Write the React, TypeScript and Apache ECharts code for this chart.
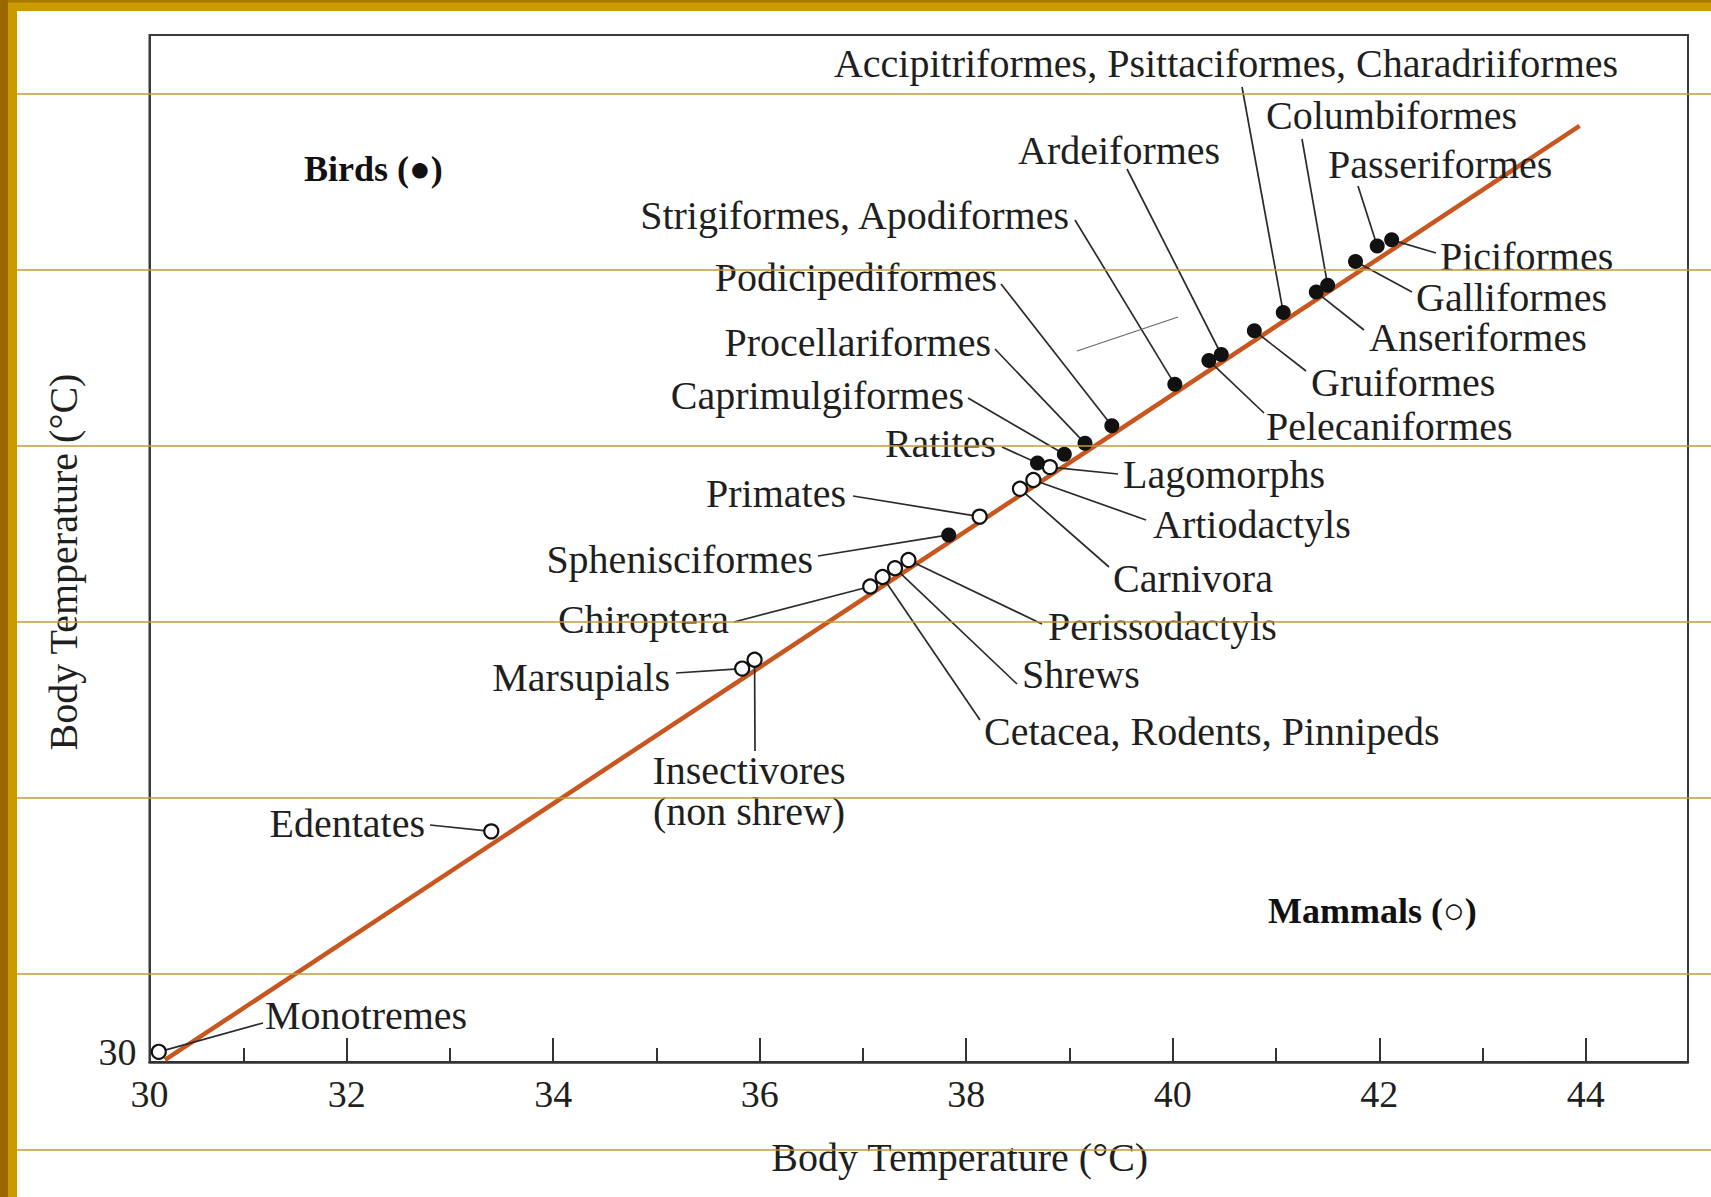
import { useEffect, useRef } from 'react';
import * as echarts from 'echarts';

// ---------- axis extents & ticks ----------
const X_MIN = 30.09;
const X_MAX = 44.99;
const Y_MIN = 30;
const Y_MAX = 45.14;
const X_MAJOR_TICKS = [32, 34, 36, 38, 40, 42, 44];
const X_MINOR_TICKS = [31, 33, 35, 37, 39, 41, 43];
// the lone "30" on the vertical axis sits a little above the corner in the original
const Y_TICK_LABELS = [30.15];

// ---------- mammals (open circles) ----------
const MAMMAL_NAMES = [
  'Monotremes', 'Edentates', 'Marsupials', 'Insectivores (non shrew)',
  'Chiroptera', 'Cetacea, Rodents, Pinnipeds', 'Shrews', 'Perissodactyls',
  'Primates', 'Carnivora', 'Artiodactyls', 'Lagomorphs',
];
const MAMMAL_X = [30.18, 33.40, 35.83, 35.95, 37.07, 37.19, 37.31, 37.44, 38.13, 38.52, 38.65, 38.81];
const MAMMAL_Y = [30.15, 33.40, 35.80, 35.93, 37.01, 37.15, 37.28, 37.40, 38.04, 38.45, 38.58, 38.77];

// ---------- birds (filled circles) ----------
const BIRD_NAMES = [
  'Sphenisciformes', 'Ratites', 'Caprimulgiformes', 'Procellariformes',
  'Podicipediformes', 'Strigiformes, Apodiformes', 'Pelecaniformes', 'Ardeiformes',
  'Gruiformes', 'Accipitriformes, Psittaciformes, Charadriiformes', 'Anseriformes',
  'Columbiformes', 'Galliformes', 'Passeriformes', 'Piciformes',
];
const BIRD_X = [37.83, 38.69, 38.95, 39.15, 39.41, 40.02, 40.35, 40.47, 40.79, 41.07, 41.39, 41.50, 41.77, 41.98, 42.12];
const BIRD_Y = [37.77, 38.83, 38.96, 39.12, 39.38, 39.99, 40.34, 40.43, 40.78, 41.05, 41.35, 41.45, 41.80, 42.03, 42.12];

// ---------- reference line ----------
const TREND_X = [30.24, 43.94];
const TREND_Y = [30.03, 43.80];

// ---------- annotation layout (pixel positions of labels and leader ends) ----------
type Lab = { text: string; x: number; y: number; align: 'left' | 'right' | 'center'; lx: number; ly: number };
const LABEL_LAYOUT: Record<string, Lab> = {
  'Monotremes': { text: 'Monotremes', x: 265, y: 1015, align: 'left', lx: 263, ly: 1023 },
  'Edentates': { text: 'Edentates', x: 425, y: 823, align: 'right', lx: 430, ly: 825 },
  'Marsupials': { text: 'Marsupials', x: 670, y: 677, align: 'right', lx: 676, ly: 673 },
  'Insectivores (non shrew)': { text: 'Insectivores\n(non shrew)', x: 749, y: 791, align: 'center', lx: 755, ly: 751 },
  'Chiroptera': { text: 'Chiroptera', x: 729, y: 619, align: 'right', lx: 734, ly: 622 },
  'Cetacea, Rodents, Pinnipeds': { text: 'Cetacea, Rodents, Pinnipeds', x: 984, y: 731, align: 'left', lx: 980, ly: 720 },
  'Shrews': { text: 'Shrews', x: 1022, y: 674, align: 'left', lx: 1017, ly: 684 },
  'Perissodactyls': { text: 'Perissodactyls', x: 1048, y: 626, align: 'left', lx: 1042, ly: 624 },
  'Primates': { text: 'Primates', x: 846, y: 493, align: 'right', lx: 853, ly: 496 },
  'Carnivora': { text: 'Carnivora', x: 1113, y: 578, align: 'left', lx: 1109, ly: 567 },
  'Artiodactyls': { text: 'Artiodactyls', x: 1153, y: 524, align: 'left', lx: 1146, ly: 520 },
  'Lagomorphs': { text: 'Lagomorphs', x: 1123, y: 474, align: 'left', lx: 1118, ly: 474 },
  'Sphenisciformes': { text: 'Sphenisciformes', x: 813, y: 559, align: 'right', lx: 818, ly: 556 },
  'Ratites': { text: 'Ratites', x: 996, y: 443, align: 'right', lx: 1002, ly: 447 },
  'Caprimulgiformes': { text: 'Caprimulgiformes', x: 964, y: 395, align: 'right', lx: 968, ly: 398 },
  'Procellariformes': { text: 'Procellariformes', x: 991, y: 342, align: 'right', lx: 995, ly: 349 },
  'Podicipediformes': { text: 'Podicipediformes', x: 997, y: 277, align: 'right', lx: 1001, ly: 284 },
  'Strigiformes, Apodiformes': { text: 'Strigiformes, Apodiformes', x: 1069, y: 215, align: 'right', lx: 1075, ly: 220 },
  'Pelecaniformes': { text: 'Pelecaniformes', x: 1266, y: 426, align: 'left', lx: 1264, ly: 413 },
  'Ardeiformes': { text: 'Ardeiformes', x: 1018, y: 150, align: 'left', lx: 1127, ly: 169 },
  'Gruiformes': { text: 'Gruiformes', x: 1311, y: 382, align: 'left', lx: 1306, ly: 371 },
  'Accipitriformes, Psittaciformes, Charadriiformes': { text: 'Accipitriformes, Psittaciformes, Charadriiformes', x: 1226, y: 63, align: 'center', lx: 1242, ly: 87 },
  'Anseriformes': { text: 'Anseriformes', x: 1369, y: 337, align: 'left', lx: 1364, ly: 330 },
  'Columbiformes': { text: 'Columbiformes', x: 1266, y: 115, align: 'left', lx: 1302, ly: 139 },
  'Galliformes': { text: 'Galliformes', x: 1416, y: 297, align: 'left', lx: 1412, ly: 292 },
  'Passeriformes': { text: 'Passeriformes', x: 1328, y: 164, align: 'left', lx: 1358, ly: 186 },
  'Piciformes': { text: 'Piciformes', x: 1440, y: 256, align: 'left', lx: 1436, ly: 253 },
};

const SERIF = '"Liberation Serif", "Times New Roman", serif';
const INK = '#1f1f1f';
const GOLD_LINES_Y = [94, 270, 446, 622, 798, 974, 1150];

export default function App() {
  const ref = useRef<HTMLDivElement>(null);

  useEffect(() => {
    if (!ref.current) return;
    const chart = echarts.init(ref.current, undefined, { renderer: 'svg' });

    const mammalData = MAMMAL_X.map((x, i) => ({ name: MAMMAL_NAMES[i], value: [x, MAMMAL_Y[i]] }));
    const birdData = BIRD_X.map((x, i) => ({ name: BIRD_NAMES[i], value: [x, BIRD_Y[i]] }));
    const allNames = [...MAMMAL_NAMES, ...BIRD_NAMES];
    const allData = [...mammalData, ...birdData];

    const goldLines = GOLD_LINES_Y.map((y) => ({
      type: 'line',
      z: 100,
      silent: true,
      shape: { x1: 17, y1: y, x2: 1711, y2: y },
      style: { stroke: '#c49a3e', lineWidth: 1.5 },
    }));

    const option: any = {
      animation: false,
      backgroundColor: '#ffffff',
      grid: {
        left: 149.5, right: 23, top: 35, bottom: 135,
        show: true, borderColor: '#3a3a3a', borderWidth: 2,
      },
      xAxis: [
        {
          type: 'value', min: X_MIN, max: X_MAX,
          name: 'Body Temperature (°C)', nameLocation: 'middle', nameGap: 75,
          nameTextStyle: { fontFamily: SERIF, fontSize: 40, color: INK, padding: [0, 0, 0, 82] },
          axisLine: { show: true, lineStyle: { color: '#333', width: 2.5 } },
          axisTick: { show: true, inside: true, length: 24, customValues: X_MAJOR_TICKS, lineStyle: { color: '#333', width: 2 } },
          axisLabel: {
            customValues: [X_MIN, ...X_MAJOR_TICKS],
            formatter: (v: number) => String(Math.round(v)),
            fontFamily: SERIF, fontSize: 38, color: INK, margin: 13,
          },
          splitLine: { show: false },
        },
        {
          type: 'value', min: X_MIN, max: X_MAX, position: 'bottom',
          axisLine: { show: false },
          axisTick: { show: true, inside: true, length: 14, customValues: X_MINOR_TICKS, lineStyle: { color: '#333', width: 2 } },
          axisLabel: { show: false },
          splitLine: { show: false },
        },
      ],
      yAxis: {
        type: 'value', min: Y_MIN, max: Y_MAX,
        name: 'Body Temperature (°C)', nameLocation: 'middle', nameGap: 66,
        nameTextStyle: { fontFamily: SERIF, fontSize: 40, color: INK, padding: [0, 27, 0, 0] },
        axisLine: { show: true, lineStyle: { color: '#3a3a3a', width: 2 } },
        axisTick: { show: false },
        axisLabel: {
          customValues: Y_TICK_LABELS,
          formatter: (v: number) => String(Math.round(v)),
          fontFamily: SERIF, fontSize: 38, color: INK, margin: 13,
        },
        splitLine: { show: false },
      },
      series: [
        {
          type: 'line', name: 'y = x',
          data: TREND_X.map((x, i) => [x, TREND_Y[i]]),
          showSymbol: false, symbol: 'none', silent: true, z: 2,
          lineStyle: { color: '#c8561f', width: 4.5 },
        },
        {
          type: 'custom', name: 'labels', coordinateSystem: 'cartesian2d', z: 3, silent: true,
          data: allData,
          renderItem: (params: any, api: any) => {
            const L = LABEL_LAYOUT[allNames[params.dataIndex]];
            const p = api.coord([api.value(0), api.value(1)]);
            return {
              type: 'group',
              children: [
                { type: 'line', shape: { x1: p[0], y1: p[1], x2: L.lx, y2: L.ly }, style: { stroke: '#2a2a2a', lineWidth: 1.7 } },
                {
                  type: 'text', x: L.x, y: L.y,
                  style: {
                    text: L.text, fill: INK, fontFamily: SERIF, fontSize: 40,
                    align: L.align, verticalAlign: 'middle', lineHeight: 41,
                  },
                },
              ],
            };
          },
        },
        {
          type: 'scatter', name: 'Mammals', data: mammalData, z: 4,
          symbol: 'circle', symbolSize: 14,
          itemStyle: { color: '#ffffff', borderColor: '#111', borderWidth: 2.2, opacity: 1 },
        },
        {
          type: 'scatter', name: 'Birds', data: birdData, z: 5,
          symbol: 'circle', symbolSize: 15,
          itemStyle: { color: '#111', opacity: 1 },
        },
      ],
      graphic: [
        // gold slide frame
        { type: 'rect', z: 100, silent: true, shape: { x: 0, y: 0, width: 8, height: 1197 }, style: { fill: '#9a6700' } },
        { type: 'rect', z: 100, silent: true, shape: { x: 8, y: 0, width: 9, height: 1197 }, style: { fill: '#cc9900' } },
        { type: 'rect', z: 100, silent: true, shape: { x: 8, y: 0, width: 1703, height: 11 }, style: { fill: '#cc9900' } },
        { type: 'rect', z: 100, silent: true, shape: { x: 8, y: 0, width: 1703, height: 2.5 }, style: { fill: '#a67a00' } },
        ...goldLines,
        // stray mark from the original scan
        { type: 'line', z: 50, silent: true, shape: { x1: 1077, y1: 351, x2: 1178, y2: 317 }, style: { stroke: '#6a6a6a', lineWidth: 1.3 } },
        // group captions
        {
          type: 'text', z: 50, x: 304, y: 169,
          style: { text: 'Birds (●)', fill: '#111', fontFamily: SERIF, fontSize: 36, fontWeight: 'bold', align: 'left', verticalAlign: 'middle' },
        },
        {
          type: 'text', z: 50, x: 1268, y: 911,
          style: { text: 'Mammals (○)', fill: '#111', fontFamily: SERIF, fontSize: 36, fontWeight: 'bold', align: 'left', verticalAlign: 'middle' },
        },
      ],
    };

    chart.setOption(option);
    return () => chart.dispose();
  }, []);

  return <div ref={ref} style={{ position: 'absolute', left: 0, top: 0, width: 1711, height: 1197 }} />;
}
